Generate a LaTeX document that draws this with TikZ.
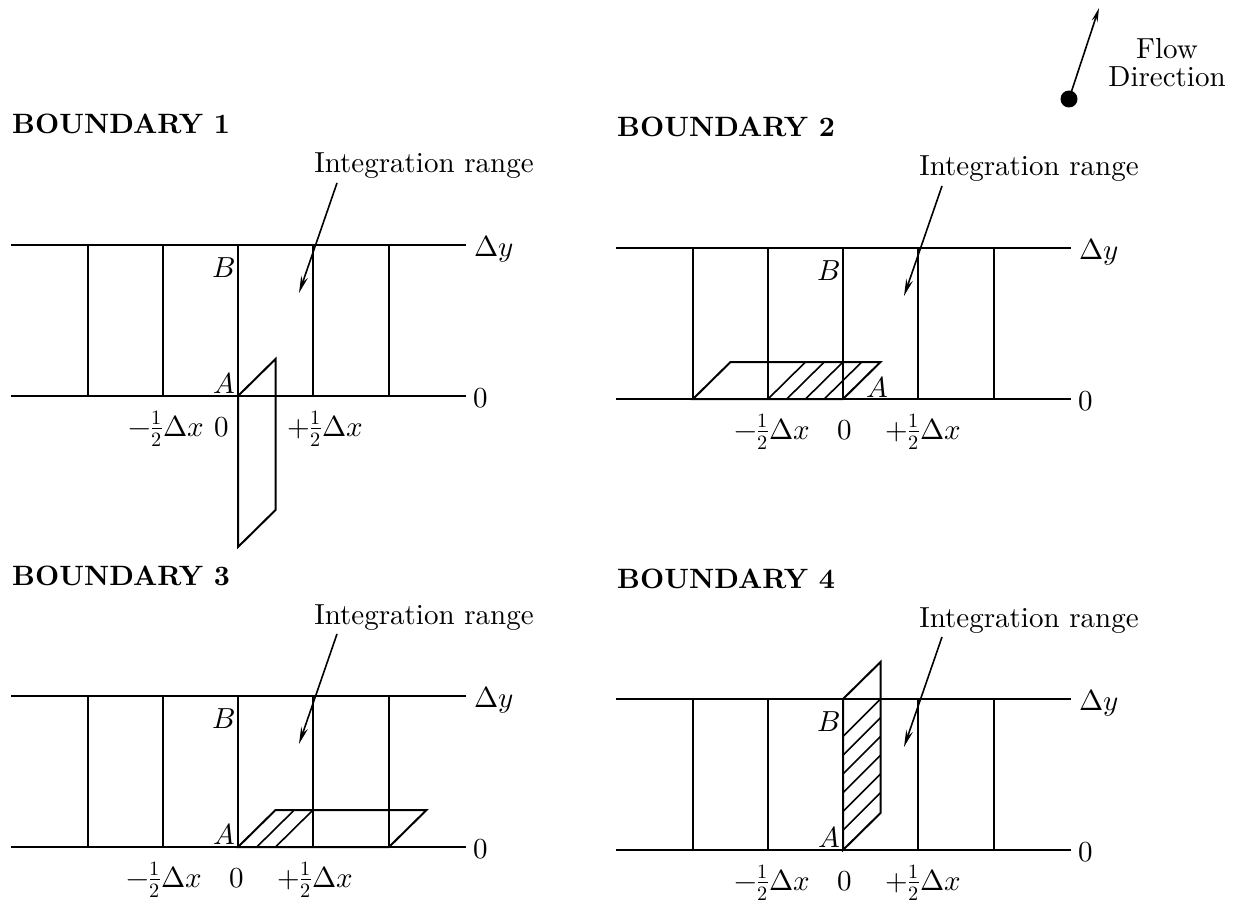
\documentclass[tikz,border=0pt]{standalone}
\usepackage{fontspec}
\usepackage{unicode-math}
\setmainfont{lmroman10}[Extension=.otf, UprightFont=*-regular, BoldFont=*-bold, ItalicFont=*-italic, BoldItalicFont=*-bolditalic]
\setmathfont{Latin Modern Math}
\usetikzlibrary{arrows.meta}
\tikzset{
  gridline/.style={line width=2.4pt},
  para/.style={line width=2pt, line join=miter},
  hatchline/.style={line width=1.6pt},
  lbl/.style={font=\fontsize{29}{34}\selectfont, inner sep=0pt},
  ttl/.style={font=\fontsize{28}{32}\selectfont\bfseries, inner sep=0pt, anchor=base west},
  pointer/.style={line width=1.6pt, -{Stealth[length=17pt,width=7pt]}},
}
\newcommand\drawpanel[2]{%
  \coordinate (#1-tl) at (11,245); \coordinate (#1-tr) at (466,245);
  \coordinate (#1-bl) at (11,396); \coordinate (#1-br) at (466,396);
  \draw[gridline] (#1-tl) -- (#1-tr);
  \draw[gridline] (#1-bl) -- (#1-br);
  \foreach \x in {88,163,238,313,389}{\draw[gridline] (\x,245) -- (\x,396);}
  \node[lbl, anchor=base west] (#1-dy) at (474,256) {$\Delta y$};
  \node[lbl, anchor=base west] (#1-zero) at (473,407) {$0$};
  \node[ttl] (#1-title) at (12,134) {#2};
  \node[lbl, anchor=base] (#1-int) at (424,173) {Integration range};
  \coordinate (#1-from) at (337,183);
  \coordinate (#1-tip) at (299,293);
  \draw[pointer] (#1-from) -- (#1-tip);
  \node[lbl, anchor=base east] (#1-B) at (235,277) {$B$};
}
\begin{document}
\begin{tikzpicture}[x=1pt,y=-1pt]
\useasboundingbox (0,0) rectangle (1244,904);

% ---------- Flow direction ----------
\coordinate (flowdot) at (1069,99);
\coordinate (flowtip) at (1099,8);
\fill (flowdot) circle (8.5);
\draw[line width=1.6pt, -{Stealth[length=14pt,width=6pt]}] (flowdot) -- (flowtip);
\node[lbl, align=center, font=\fontsize{29}{28}\selectfont] (flowtext) at (1167,63) {Flow\\Direction};

% ---------- Boundary 1 ----------
\begin{scope}
  \drawpanel{p1}{BOUNDARY 1}
  \draw[para] (238,396) -- (275.5,359) -- (275.5,510) -- (238,547) -- cycle;
  \node[lbl, anchor=base east] (p1-A) at (235,393) {$A$};
  \node[lbl, anchor=base] (p1-mx) at (166,436) {$-\frac{1}{2}\Delta x$};
  \node[lbl, anchor=base] (p1-0) at (222,436) {$0$};
  \node[lbl, anchor=base] (p1-px) at (325,436) {$+\frac{1}{2}\Delta x$};
\end{scope}

% ---------- Boundary 2 ----------
\begin{scope}[shift={(605,3)}]
  \drawpanel{p2}{BOUNDARY 2}
  \draw[para] (88,396) -- (238,396) -- (275.5,359) -- (125.5,359) -- cycle;
  \foreach \k in {0,1,2,3}{
    \draw[hatchline] (163+18.75*\k,396) -- (200.5+18.75*\k,359);
  }
  \node[lbl, anchor=base] (p2-A) at (272,394) {$A$};
  \node[lbl, anchor=base] (p2-mx) at (167,436) {$-\frac{1}{2}\Delta x$};
  \node[lbl, anchor=base] (p2-0) at (240,436) {$0$};
  \node[lbl, anchor=base] (p2-px) at (318,436) {$+\frac{1}{2}\Delta x$};
\end{scope}

% ---------- Boundary 3 ----------
\begin{scope}[shift={(0,451)}]
  \drawpanel{p3}{BOUNDARY 3}
  \draw[para] (238,396) -- (389,396) -- (426.5,359) -- (275.5,359) -- cycle;
  \foreach \k in {1,2}{
    \draw[hatchline] (238+18.75*\k,396) -- (275.5+18.75*\k,359);
  }
  \node[lbl, anchor=base east] (p3-A) at (235,393) {$A$};
  \node[lbl, anchor=base] (p3-mx) at (164,436) {$-\frac{1}{2}\Delta x$};
  \node[lbl, anchor=base] (p3-0) at (237,436) {$0$};
  \node[lbl, anchor=base] (p3-px) at (315,436) {$+\frac{1}{2}\Delta x$};
\end{scope}

% ---------- Boundary 4 ----------
\begin{scope}[shift={(605,454)}]
  \drawpanel{p4}{BOUNDARY 4}
  \draw[para] (238,396) -- (238,245) -- (275.5,208) -- (275.5,359) -- cycle;
  \foreach \k in {0,1,2,3,4,5}{
    \draw[hatchline] (275.5,245+18.75*\k) -- (238,282.5+18.75*\k);
  }
  \node[lbl, anchor=base east] (p4-A) at (235,393) {$A$};
  \node[lbl, anchor=base] (p4-mx) at (167,436) {$-\frac{1}{2}\Delta x$};
  \node[lbl, anchor=base] (p4-0) at (240,436) {$0$};
  \node[lbl, anchor=base] (p4-px) at (318,436) {$+\frac{1}{2}\Delta x$};
\end{scope}
\end{tikzpicture}
\end{document}
